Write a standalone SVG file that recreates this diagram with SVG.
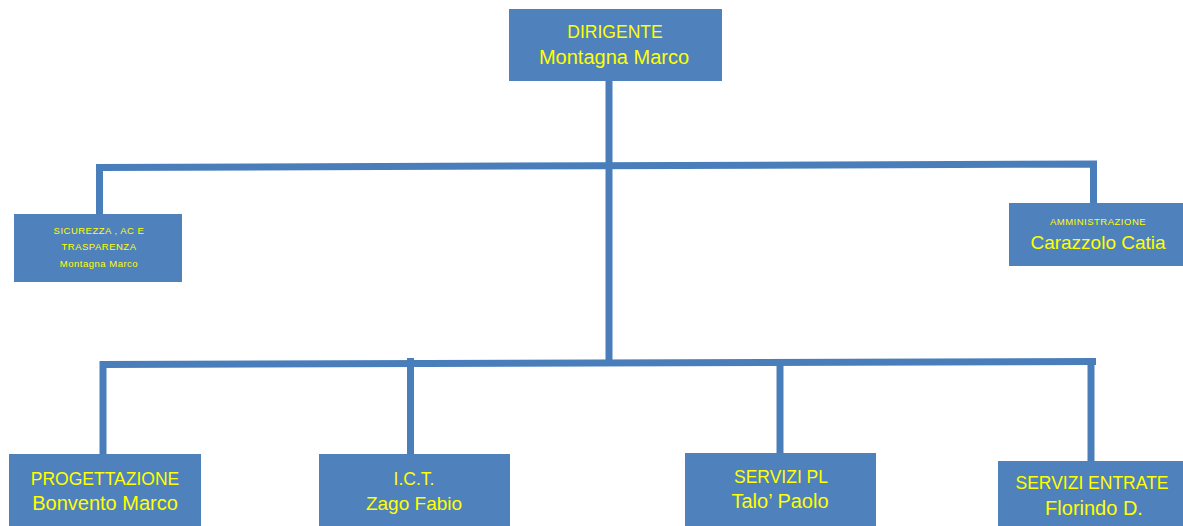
<svg xmlns="http://www.w3.org/2000/svg" width="1183" height="526" viewBox="0 0 1183 526">
<style>
.box{fill:#4F81BD;}
.t{fill:#FFFF00;font-family:"Liberation Sans",Arial,sans-serif;text-anchor:middle;}
.cap{font-size:17.5px;}
.mix{font-size:20px;}
.sm{font-size:9.5px;letter-spacing:0.5px;}
.ln{stroke:#4A7EBB;stroke-width:7;fill:none;stroke-linecap:butt;}
</style>
<rect width="1183" height="526" fill="#FFFFFF"/>
<g id="connectors">
<line class="ln" x1="609" y1="81" x2="609" y2="361"/>
<polyline class="ln" points="99.5,214 99.5,167.5 1093.5,164 1093.5,203"/>
<polyline class="ln" points="103,454 103,364.5 1096,361.5"/>
<line class="ln" x1="410.5" y1="358" x2="410.5" y2="454"/>
<line class="ln" x1="780" y1="362" x2="780" y2="460"/>
<line class="ln" x1="1091" y1="361" x2="1091" y2="461"/>
</g>
<g id="dirigente">
<rect class="box" x="509" y="9" width="213" height="72"/>
<text class="t cap" x="615" y="38">DIRIGENTE</text>
<text class="t mix" x="614" y="64">Montagna Marco</text>
</g>
<g id="sicurezza">
<rect class="box" x="14" y="214" width="168" height="68"/>
<text class="t sm" x="99" y="234">SICUREZZA  , AC E</text>
<text class="t sm" x="99" y="250">TRASPARENZA</text>
<text class="t sm" x="99" y="267">Montagna  Marco</text>
</g>
<g id="amministrazione">
<rect class="box" x="1009" y="203" width="174" height="63"/>
<text class="t sm" x="1098" y="225">AMMINISTRAZIONE</text>
<text class="t mix" x="1098" y="249" style="font-size:19px">Carazzolo Catia</text>
</g>
<g id="progettazione">
<rect class="box" x="9" y="454" width="192" height="72"/>
<text class="t cap" x="105" y="485">PROGETTAZIONE</text>
<text class="t mix" x="105" y="510">Bonvento Marco</text>
</g>
<g id="ict">
<rect class="box" x="319" y="454" width="191" height="72"/>
<text class="t cap" x="414" y="485">I.C.T.</text>
<text class="t mix" x="414" y="510" style="font-size:19px">Zago Fabio</text>
</g>
<g id="servizi-pl">
<rect class="box" x="685" y="453" width="191" height="73"/>
<text class="t cap" x="781" y="483">SERVIZI PL</text>
<text class="t mix" x="780" y="508">Talo’ Paolo</text>
</g>
<g id="servizi-entrate">
<rect class="box" x="998" y="461" width="185" height="65"/>
<text class="t cap" x="1092" y="489">SERVIZI ENTRATE</text>
<text class="t mix" x="1094" y="515">Florindo D.</text>
</g>
</svg>
